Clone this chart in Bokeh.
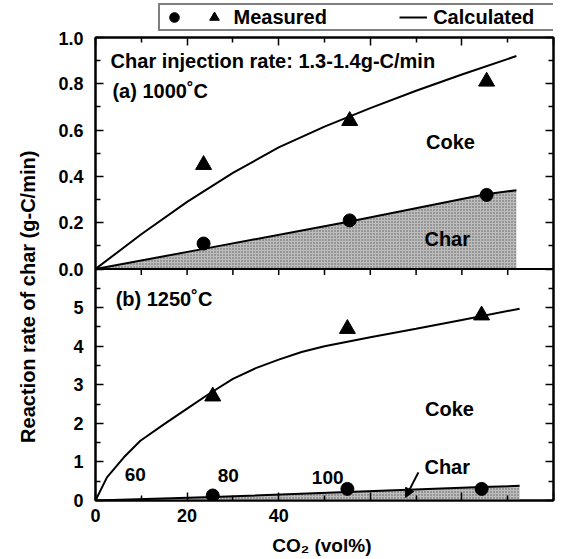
import numpy as np
from bokeh.plotting import figure
from bokeh.layouts import column
from bokeh.models import (Range1d, LinearAxis, FixedTicker, Span, Label, Legend,
                          LegendItem, Arrow, NormalHead)
from bokeh.embed import file_html
from bokeh.resources import INLINE

FONT = "Liberation Sans"
NB = "\u00a0"

# ---------------- data ----------------
x_major = [0, 20, 40, 60, 80, 100]
x_minor = [10, 30, 50, 70, 90]
x_labels = {0: "0", 20: "20", 40: "40", 60: "", 80: "", 100: ""}

# (a) 1000 C
a_meas_x = [23.6, 55.5, 85.4]
a_total_meas = [0.45, 0.64, 0.81]
a_char_meas = [0.11, 0.21, 0.32]
a_total_x = [0, 10, 20, 30, 40, 50, 60, 70, 80, 91.9]
a_total_calc = [0, 0.15, 0.29, 0.415, 0.525, 0.615, 0.695, 0.77, 0.84, 0.92]
a_char_x = [0, 23.9, 55.5, 85.2, 91.9]
a_char_calc = [0, 0.088, 0.205, 0.323, 0.34]
a_yticks = [0.0, 0.2, 0.4, 0.6, 0.8, 1.0]
a_ylabels = ["0.0", "0.2", "0.4", "0.6", "0.8", "1.0"]
a_yminor = [0.1, 0.3, 0.5, 0.7, 0.9]

# (b) 1250 C
b_meas_x = [25.6, 55.0, 84.3]
b_total_meas = [2.7, 4.45, 4.8]
b_char_meas = [0.13, 0.30, 0.30]
b_total_x = [0, 2.5, 6.2, 9.8, 15, 20, 25, 30, 35, 40, 45, 50, 60, 70, 80, 92.6]
b_total_calc = [0, 0.60, 1.12, 1.55, 1.98, 2.38, 2.78, 3.15, 3.43, 3.65, 3.85, 4.0, 4.23, 4.45, 4.68, 4.97]
b_char_x = [0, 25.6, 55.0, 84.3, 92.6]
b_char_calc = [0, 0.09, 0.22, 0.35, 0.38]
b_yticks = [0, 1, 2, 3, 4, 5]
b_ylabels = ["0", "1", "2", "3", "4", "5"]
b_yminor = [0.5, 1.5, 2.5, 3.5, 4.5, 5.5]

B_MAX = 6.0   # top of panel (b) in its own units
A_MAX = 1.0   # top of panel (a)


def a_pos(v):
    return round(B_MAX + v * B_MAX / A_MAX, 6)


SHADE = "#bdbdbd"
LEG_H = 31

p = figure(width=563, height=559 - LEG_H, x_range=Range1d(0, 100), y_range=Range1d(0, 2 * B_MAX),
           output_backend="svg", toolbar_location=None, title=None,
           x_axis_location=None, y_axis_location=None,
           min_border_left=95, min_border_right=10, min_border_top=6, min_border_bottom=59)
p.extra_y_ranges = {"a": Range1d(-A_MAX, A_MAX)}
p.grid.grid_line_color = None
p.outline_line_color = "black"
p.outline_line_width = 2
p.background_fill_color = "white"
p.border_fill_color = "white"


def style(ax, show_labels=True):
    ax.major_tick_in = 8
    ax.major_tick_out = 0
    ax.minor_tick_in = 5
    ax.minor_tick_out = 0
    ax.axis_line_width = 2
    ax.axis_line_color = "black"
    ax.major_tick_line_color = "black"
    ax.minor_tick_line_color = "black"
    ax.major_tick_line_width = 1.5
    ax.minor_tick_line_width = 1.5
    ax.major_label_text_color = "black"
    ax.major_label_text_font = FONT
    ax.major_label_text_font_style = "bold"
    ax.major_label_text_font_size = "18px" if show_labels else "1px"
    ax.major_label_standoff = 12 if show_labels else 0
    ax.axis_label_text_color = "black"
    ax.axis_label_text_font = FONT
    ax.axis_label_text_font_style = "bold"


y_major = b_yticks + [a_pos(t) for t in a_yticks]
y_minor = b_yminor + [a_pos(t) for t in a_yminor]
y_over = {t: l for t, l in zip(b_yticks, b_ylabels)}
y_over.update({a_pos(t): l for t, l in zip(a_yticks, a_ylabels)})

yl = LinearAxis(ticker=FixedTicker(ticks=y_major, minor_ticks=y_minor), major_label_overrides=y_over,
                axis_label="Reaction rate of char (g-C/min)" + NB * 10)
style(yl)
yl.axis_label_text_font_size = "20px"
yl.axis_label_standoff = 16
p.add_layout(yl, "left")
yr = LinearAxis(ticker=FixedTicker(ticks=y_major, minor_ticks=y_minor),
                major_label_overrides={t: "" for t in y_major})
style(yr, False)
p.add_layout(yr, "right")

xb = LinearAxis(ticker=FixedTicker(ticks=x_major, minor_ticks=x_minor), major_label_overrides=x_labels,
                axis_label="CO\u2082  (vol%)")
style(xb)
xb.major_label_standoff = 8
xb.axis_label_text_font_size = "19px"
xb.axis_label_standoff = 10
p.add_layout(xb, "below")
xa = LinearAxis(ticker=FixedTicker(ticks=x_major, minor_ticks=x_minor),
                major_label_overrides={t: "" for t in x_major})
style(xa, False)
p.add_layout(xa, "above")

# divider between panels and its ticks
p.add_layout(Span(location=B_MAX, dimension="width", line_color="black", line_width=2))
mid_x = sorted(x_minor + x_major[1:-1])
p.scatter(mid_x, [B_MAX] * len(mid_x), marker="dash", size=12, angle=np.pi / 2,
          line_color="black", line_width=1.5)

hatch = dict(fill_color=SHADE, hatch_pattern="dot", hatch_color="#5a5a5a", hatch_scale=3, hatch_weight=1)

# panel (a)
p.varea(x=a_char_x, y1=0, y2=a_char_calc, y_range_name="a", **hatch)
p.line(a_char_x, a_char_calc, y_range_name="a", line_color="black", line_width=2)
p.line(a_total_x, a_total_calc, y_range_name="a", line_color="black", line_width=2)
p.scatter(a_meas_x, a_char_meas, y_range_name="a", marker="circle", size=13, color="black")
p.scatter(a_meas_x, a_total_meas, y_range_name="a", marker="triangle", size=16, color="black")

# panel (b)
p.varea(x=b_char_x, y1=0, y2=b_char_calc, **hatch)
p.line(b_char_x, b_char_calc, line_color="black", line_width=2)
p.line(b_total_x, b_total_calc, line_color="black", line_width=2)
p.scatter(b_meas_x, b_char_meas, marker="circle", size=13, color="black")
p.scatter(b_meas_x, b_total_meas, marker="triangle", size=16, color="black")


def lab(x, y, text, rng="default", align="left", size="20px"):
    p.add_layout(Label(x=x, y=y, y_range_name=rng, text=text, text_font=FONT,
                       text_font_style="bold", text_font_size=size, text_align=align,
                       text_baseline="middle", text_color="black"))


lab(3.3, 0.90, "Char injection rate: 1.3-1.4g-C/min", "a")
lab(3.7, 0.77, "(a) 1000\u02daC", "a")
lab(77.5, 0.547, "Coke", "a", "center")
lab(76.8, 0.13, "Char", "a", "center")
lab(4.4, 5.23, "(b) 1250\u02daC")
lab(77.3, 2.38, "Coke", align="center")
lab(76.8, 0.88, "Char", align="center")
lab(8.7, 0.67, "60", align="center", size="19px")
lab(29.0, 0.65, "80", align="center", size="19px")
lab(50.7, 0.60, "100", align="center", size="19px")

p.add_layout(Arrow(end=NormalHead(size=9, fill_color="black", line_color="black"),
                   x_start=70.5, y_start=0.73, x_end=67.7, y_end=0.08,
                   line_color="black", line_width=2))

# ---------------- legend strip above the plot ----------------
# proxy renderers carry the panel (a) data; their points lie outside this strip's ranges
lf = figure(width=563, height=LEG_H, x_range=Range1d(-2, -1), y_range=Range1d(-2, -1),
            output_backend="svg", toolbar_location=None, title=None,
            x_axis_location=None, y_axis_location=None,
            min_border_left=0, min_border_right=0, min_border_top=0, min_border_bottom=0)
lf.grid.grid_line_color = None
lf.outline_line_color = None
lf.border_fill_color = "white"
lf.background_fill_color = "white"
lg_circ = lf.scatter(a_meas_x, a_char_meas, marker="circle", size=13, color="black")
lg_tri = lf.scatter(a_meas_x, a_total_meas, marker="triangle", size=16, color="black")
lg_line = lf.line(a_total_x, a_total_calc, line_color="black", line_width=2)

legend = Legend(items=[LegendItem(label=NB, renderers=[lg_circ]),
                       LegendItem(label="Measured" + NB * 13, renderers=[lg_tri]),
                       LegendItem(label="Calculated" + NB * 4, renderers=[lg_line])],
                orientation="horizontal", location=(63, 0),
                border_line_color="black", border_line_width=2,
                label_text_font=FONT, label_text_font_style="bold", label_text_font_size="20px",
                label_text_color="black", label_width=0,
                glyph_width=28, glyph_height=24, label_standoff=6, spacing=0,
                padding=0, margin=0)
lf.add_layout(legend)

layout = column(lf, p, spacing=0)
open("out.html", "w").write(file_html(layout, INLINE))
